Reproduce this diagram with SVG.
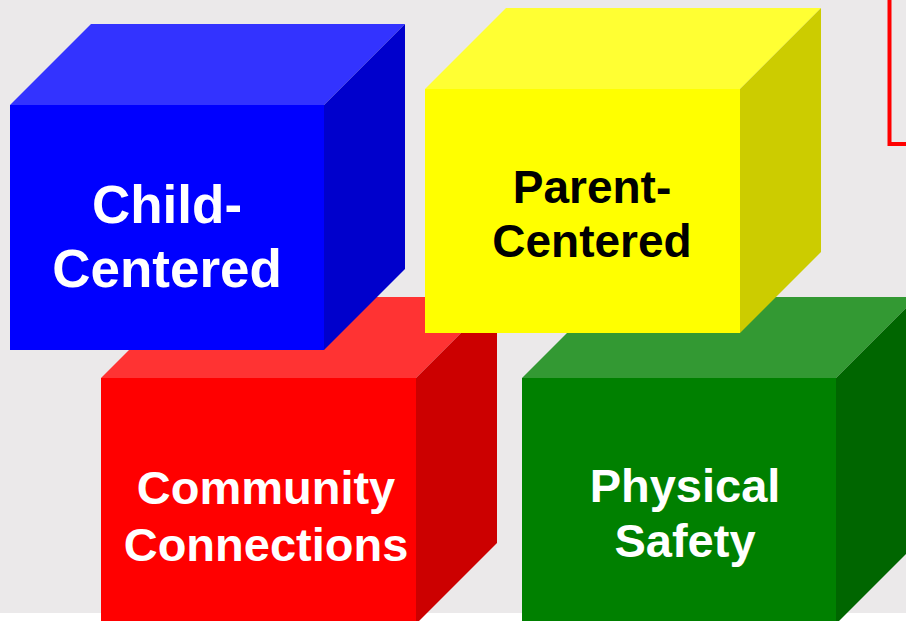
<svg xmlns="http://www.w3.org/2000/svg" width="906" height="621" viewBox="0 0 906 621">
  <style>
    .lbl { font-family: "Liberation Sans", Arial, sans-serif; font-weight: bold; text-anchor: middle; }
    .white { fill: #ffffff; }
    .black { fill: #000000; }
  </style>
  <!-- page background -->
  <rect x="0" y="0" width="906" height="621" fill="#ffffff"/>
  <rect x="0" y="0" width="906" height="613" fill="#ebe9ea"/>
  <!-- red frame at top right -->
  <rect x="889.5" y="-10" width="40" height="154" fill="none" stroke="#ff0000" stroke-width="4"/>

  <!-- Community Connections (red block) -->
  <g id="community-connections">
    <polygon points="101,378 182,297 497,297 416,378" fill="#ff3333"/>
    <polygon points="416,378 497,297 497,543 416,624" fill="#cc0000"/>
    <rect x="101" y="378" width="315" height="246" fill="#ff0000"/>
    <text class="lbl white" x="266" y="504" font-size="47">Community</text>
    <text class="lbl white" x="266" y="561" font-size="47">Connections</text>
  </g>

  <!-- Physical Safety (green block) -->
  <g id="physical-safety">
    <polygon points="522,378 603,297 917,297 836,378" fill="#339933"/>
    <polygon points="836,378 917,297 917,543 836,624" fill="#006600"/>
    <rect x="522" y="378" width="314" height="246" fill="#008000"/>
    <text class="lbl white" x="685" y="502" font-size="47">Physical</text>
    <text class="lbl white" x="685" y="557" font-size="47">Safety</text>
  </g>

  <!-- Child-Centered (blue block) -->
  <g id="child-centered">
    <polygon points="10,105 91,24 405,24 324,105" fill="#3333ff"/>
    <polygon points="324,105 405,24 405,269 324,350" fill="#0000cc"/>
    <rect x="10" y="105" width="314" height="245" fill="#0000ff"/>
    <text class="lbl white" x="167" y="223" font-size="53">Child-</text>
    <text class="lbl white" x="167" y="287" font-size="53">Centered</text>
  </g>

  <!-- Parent-Centered (yellow block) -->
  <g id="parent-centered">
    <polygon points="425,89 506,8 821,8 740,89" fill="#ffff33"/>
    <polygon points="740,89 821,8 821,252 740,333" fill="#cccc00"/>
    <rect x="425" y="89" width="315" height="244" fill="#ffff00"/>
    <text class="lbl black" x="592" y="203" font-size="46">Parent-</text>
    <text class="lbl black" x="592" y="257" font-size="46">Centered</text>
  </g>

  <!-- no connectors in this figure -->
  <g id="connectors"/>
</svg>
